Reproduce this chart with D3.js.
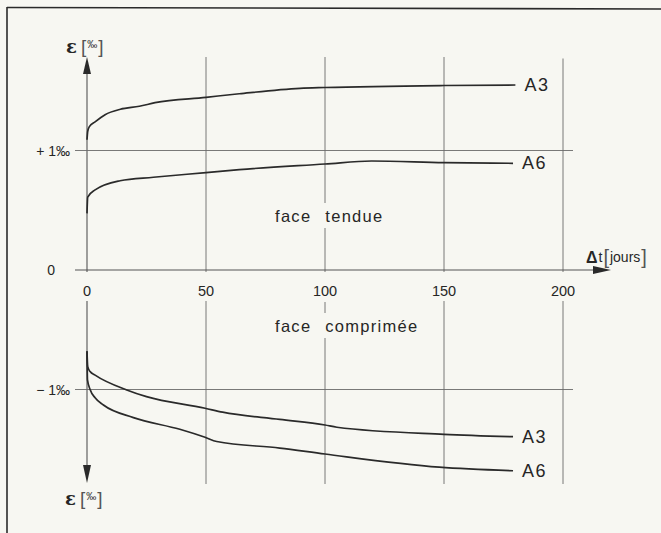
<!DOCTYPE html>
<html><head><meta charset="utf-8">
<script src="https://cdn.jsdelivr.net/npm/d3@7"></script>
<style>
html,body{margin:0;padding:0;background:#f7f7f2;}
svg{display:block;}
text{font-family:"Liberation Sans",Arial,sans-serif;fill:#262626;}
</style></head>
<body>
<svg id="c" width="661" height="533"></svg>
<script>
// ---- data ----
const xTicks = [0, 50, 100, 150, 200];
const yTickValues = [1, 0, -1];
const yTickLabels = ["+ 1‰", "0", "− 1‰"];

// face tendue (tension side)
const a3TopDays = [0, 0.3, 1, 3.4, 7.6, 14, 22, 28.6, 50, 64, 89.5, 100, 150, 180];
const a3TopVals = [1.09, 1.16, 1.2, 1.24, 1.30, 1.345, 1.37, 1.40, 1.445, 1.475, 1.52, 1.527, 1.544, 1.548];
const a6TopDays = [0, 0.3, 3.4, 13.9, 27.9, 50, 64, 100, 119.6, 150, 179];
const a6TopVals = [0.474, 0.61, 0.67, 0.747, 0.776, 0.815, 0.84, 0.887, 0.912, 0.898, 0.893];

// face comprimée (compression side)
const a3BotDays = [0, 0.3, 1.3, 3.4, 16.7, 25, 49.6, 57, 81, 100, 105, 150, 179];
const a3BotVals = [-0.68, -0.81, -0.85, -0.88, -1.004, -1.06, -1.157, -1.19, -1.25, -1.297, -1.316, -1.375, -1.395];
const a6BotDays = [0, 0.2, 1.3, 3.4, 6.9, 19.5, 39, 49.6, 54.5, 81, 100, 148, 179];
const a6BotVals = [-0.68, -0.92, -1.0, -1.07, -1.13, -1.235, -1.333, -1.40, -1.435, -1.49, -1.54, -1.65, -1.68];

const seriesLabels = ["A3", "A6", "A3", "A6"];

// ---- drawing ----
const svg = d3.select("#c");
const x = d3.scaleLinear().domain([0, 200]).range([87, 563]);
const y = d3.scaleLinear().domain([-1, 1]).range([389.5, 150.5]);
const INK = "#2a2a2a", GRID = "#6a6a6a";

// frame (top & left edges)
svg.append("line").attr("x1", 7).attr("y1", 7.5).attr("x2", 661).attr("y2", 9)
  .attr("stroke", INK).attr("stroke-width", 1.6);
svg.append("line").attr("x1", 7).attr("y1", 7).attr("x2", 7).attr("y2", 533)
  .attr("stroke", INK).attr("stroke-width", 1.6);

const g = svg.append("g");

// vertical lines with gaps
function vSegments(v) {
  const top = v === 0 ? 73 : (v === 200 ? 58.5 : 57);
  const bottom = v === 0 ? 465 : 484;
  let gaps = [[272, 301]];
  if (v === 100) gaps = [[203, 228], [272, 302], [313, 338]];
  const segs = [];
  let s = top;
  gaps.forEach(gp => { segs.push([s, gp[0]]); s = gp[1]; });
  segs.push([s, bottom]);
  return segs;
}
xTicks.forEach(v => {
  vSegments(v).forEach(sg => {
    g.append("line").attr("x1", x(v)).attr("x2", x(v)).attr("y1", sg[0]).attr("y2", sg[1])
      .attr("stroke", v === 0 ? "#555" : GRID).attr("stroke-width", v === 0 ? 1.1 : 0.9);
  });
});

// horizontal lines
yTickValues.forEach(v => {
  g.append("line").attr("x1", 75).attr("x2", v === 0 ? 596 : 573)
    .attr("y1", y(v)).attr("y2", y(v))
    .attr("stroke", v === 0 ? "#555" : GRID).attr("stroke-width", v === 0 ? 1.1 : 0.9);
});

// arrows
const x0 = x(0);
svg.append("path").attr("d", `M${x0},57 L${x0 - 4},74 L${x0 + 4},74 Z`).attr("fill", INK);
svg.append("path").attr("d", `M${x0},483 L${x0 - 4},465 L${x0 + 4},465 Z`).attr("fill", INK);
svg.append("path").attr("d", `M611,${y(0)} L593,${y(0) - 4} L593,${y(0) + 4} Z`).attr("fill", INK);

// x tick labels
svg.append("g").selectAll("text").data(xTicks).join("text")
  .attr("x", d => x(d)).attr("y", 296).attr("text-anchor", "middle")
  .attr("font-size", 14.5).text(d => d);

// y tick labels
svg.append("g").selectAll("text").data(yTickValues).join("text")
  .attr("x", (d, i) => i === 1 ? 55 : 70).attr("y", d => y(d))
  .attr("text-anchor", "end").attr("dominant-baseline", "central")
  .attr("font-size", 14).text((d, i) => yTickLabels[i]);

// curves
const line = d3.line().x(d => x(d[0])).y(d => y(d[1])).curve(d3.curveMonotoneX);
const curves = [
  [a3TopDays, a3TopVals],
  [a6TopDays, a6TopVals],
  [a3BotDays, a3BotVals],
  [a6BotDays, a6BotVals]
];
curves.forEach((c, i) => {
  const pts = c[0].map((d, j) => [d, c[1][j]]);
  svg.append("path").attr("d", line(pts)).attr("fill", "none")
    .attr("stroke", INK).attr("stroke-width", 1.7).attr("stroke-linejoin", "round");
  const last = pts[pts.length - 1];
  svg.append("text").attr("x", x(last[0]) + 9).attr("y", y(last[1]))
    .attr("dominant-baseline", "central").attr("font-size", 18)
    .attr("letter-spacing", 1.5).text(seriesLabels[i]);
});

// region labels
svg.append("text").attr("x", 275).attr("y", 222).attr("font-size", 16.5)
  .attr("letter-spacing", 1.3).attr("word-spacing", 8).text("face tendue");
svg.append("text").attr("x", 275).attr("y", 332).attr("font-size", 16.5)
  .attr("letter-spacing", 1.3).attr("word-spacing", 8).text("face comprimée");

// axis titles
function epsLabel(cx, cy) {
  const t = svg.append("text").attr("x", cx).attr("y", cy).attr("dominant-baseline", "central");
  t.append("tspan").attr("font-family", "DejaVu Serif").attr("font-weight", "bold")
    .attr("font-size", 18).text("ε");
  t.append("tspan").attr("dx", 4).attr("font-size", 19).attr("font-weight", 300)
    .attr("fill", "#555").text("[");
  t.append("tspan").attr("dx", 1).attr("font-size", 10).attr("dy", -2).text("‰");
  t.append("tspan").attr("dx", 1).attr("font-size", 19).attr("dy", 2)
    .attr("fill", "#555").text("]");
}
epsLabel(66, 46);
epsLabel(65, 498);

const dt = svg.append("text").attr("x", 586).attr("y", 257).attr("dominant-baseline", "central");
dt.append("tspan").attr("font-weight", "bold").attr("font-size", 16).text("Δ");
dt.append("tspan").attr("dx", 1).attr("font-size", 14).text("t");
dt.append("tspan").attr("dx", 1).attr("font-size", 20).attr("fill", "#555").text("[");
dt.append("tspan").attr("dx", 1).attr("font-size", 14).text("jours");
dt.append("tspan").attr("dx", 1).attr("font-size", 20).attr("fill", "#555").text("]");
</script>
</body></html>
